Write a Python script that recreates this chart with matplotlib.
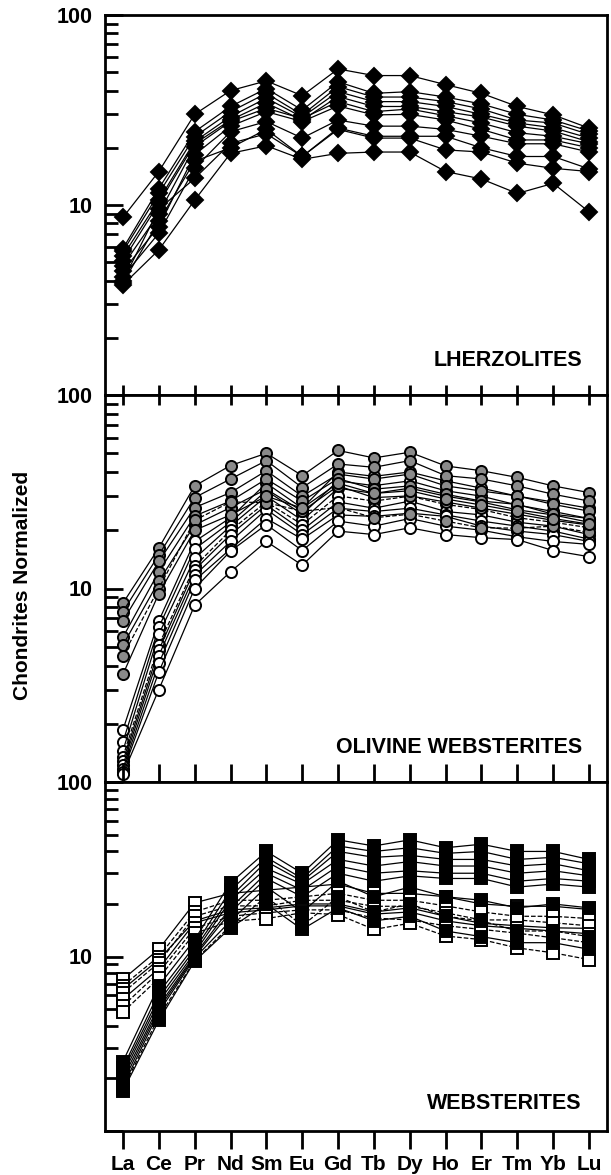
import numpy as np
import matplotlib
matplotlib.use('Agg')
import matplotlib.pyplot as plt
from matplotlib.ticker import FixedLocator, NullFormatter, FuncFormatter

plt.rcParams['font.family'] = ['Liberation Sans', 'DejaVu Sans']
plt.rcParams['font.weight'] = 'bold'

elements = ['La', 'Ce', 'Pr', 'Nd', 'Sm', 'Eu', 'Gd', 'Tb', 'Dy', 'Ho', 'Er', 'Tm', 'Yb', 'Lu']

# lherzolites (black diamonds)
lherz = [
    [8.6, 15.0, 30.0, 40.0, 45.0, 37.6, 52.0, 48.0, 48.0, 43.0, 38.7, 33.0, 29.8, 25.4],
    [5.9, 12.2, 24.3, 33.0, 41.0, 31.6, 44.5, 38.7, 39.5, 37.0, 34.0, 30.0, 28.0, 24.5],
    [5.7, 11.5, 22.9, 31.0, 38.7, 29.8, 42.0, 37.0, 37.0, 35.0, 32.0, 28.0, 27.0, 23.5],
    [5.4, 10.6, 21.6, 29.2, 36.5, 29.0, 39.5, 35.0, 35.0, 33.0, 30.0, 27.0, 25.5, 22.5],
    [5.1, 10.2, 21.0, 28.0, 34.4, 28.0, 37.2, 33.0, 33.0, 31.0, 29.0, 26.0, 24.5, 21.5],
    [4.8, 9.0, 20.3, 27.5, 32.3, 28.5, 35.0, 31.0, 32.0, 29.5, 27.0, 24.0, 23.0, 21.0],
    [4.5, 7.7, 18.4, 26.0, 31.0, 27.5, 33.2, 29.8, 30.0, 28.0, 25.0, 22.0, 22.0, 20.0],
    [4.2, 7.1, 15.6, 24.3, 27.5, 22.5, 28.0, 26.0, 26.0, 25.0, 23.0, 21.0, 21.0, 19.0],
    [4.0, 9.5, 13.8, 21.1, 23.7, 18.0, 25.4, 23.0, 23.0, 23.0, 20.0, 18.0, 18.0, 15.5],
    [3.9, 8.2, 17.0, 20.0, 25.0, 18.0, 25.0, 22.5, 22.5, 19.5, 19.0, 16.6, 15.6, 15.0],
    [3.8, 5.8, 10.6, 18.7, 20.5, 17.4, 18.7, 19.0, 19.0, 15.0, 13.7, 11.5, 13.0, 9.2],
]

# olivine websterites: grey filled circles
ow_grey = [
    [8.4, 16.2, 33.9, 43.2, 50.0, 38.3, 51.7, 47.3, 50.6, 43.0, 40.6, 37.5, 33.9, 31.3],
    [7.6, 14.9, 29.5, 36.8, 45.8, 33.2, 44.0, 42.3, 45.8, 38.3, 36.8, 33.9, 30.7, 28.3],
    [6.8, 13.8, 26.2, 31.3, 40.6, 30.0, 39.0, 36.8, 39.0, 33.9, 31.9, 30.1, 27.2, 25.1],
    [5.6, 12.2, 23.7, 28.3, 36.8, 28.3, 37.0, 32.6, 33.9, 30.7, 28.3, 27.2, 24.2, 23.0],
    [5.1, 10.9, 21.3, 26.2, 32.6, 25.1, 33.9, 29.5, 30.1, 28.0, 26.0, 24.2, 22.5, 21.3],
    [4.5, 10.0, 22.5, 28.0, 27.8, 25.1, 26.2, 23.2, 24.2, 22.3, 20.6, 20.5, 21.0, 19.5],
    [3.6, 9.4, 20.0, 24.0, 30.0, 26.0, 35.0, 31.0, 32.0, 29.0, 27.0, 25.0, 23.0, 21.5],
]
ow_grey_dash = [False, False, False, False, False, True, False]

# olivine websterites: open circles
ow_open = [
    [1.86, 6.8, 17.5, 23.2, 35.0, 26.0, 40.0, 38.0, 40.0, 36.0, 33.0, 30.0, 28.0, 26.0],
    [1.61, 6.3, 16.0, 22.0, 32.0, 24.2, 36.0, 34.0, 36.0, 32.0, 30.0, 27.0, 25.0, 23.0],
    [1.45, 5.8, 14.3, 21.0, 30.0, 22.5, 33.0, 31.0, 33.0, 30.0, 28.0, 25.5, 24.0, 22.0],
    [1.35, 5.1, 13.0, 20.0, 28.0, 21.4, 30.1, 28.3, 30.0, 27.2, 25.6, 23.2, 22.0, 20.6],
    [1.28, 4.8, 12.5, 19.0, 27.0, 20.0, 28.0, 26.0, 28.3, 25.0, 24.0, 22.0, 21.0, 19.0],
    [1.22, 4.5, 11.7, 17.5, 25.6, 19.0, 26.0, 25.0, 26.0, 24.0, 22.3, 21.0, 19.8, 18.0],
    [1.17, 4.1, 11.0, 16.0, 23.0, 18.0, 24.0, 23.6, 24.5, 23.6, 21.0, 19.8, 19.0, 17.5],
    [1.13, 3.7, 10.0, 15.6, 21.4, 15.7, 22.3, 21.0, 23.0, 21.0, 20.0, 18.5, 17.5, 16.9],
    [1.10, 3.0, 8.2, 12.2, 17.5, 13.2, 19.8, 19.0, 20.6, 19.0, 18.3, 17.9, 15.7, 14.6],
]
ow_open_dash = [False, False, False, True, False, False, False, False, False]

# websterites: black squares
web_black = [
    [2.5, 6.8, 12.5, 26.4, 40.0, 30.0, 46.6, 43.0, 46.6, 42.0, 44.0, 40.0, 40.0, 36.0],
    [2.3, 6.2, 11.5, 24.0, 37.0, 28.0, 43.0, 40.0, 42.0, 39.0, 40.0, 36.0, 37.0, 34.0],
    [2.2, 5.8, 11.0, 22.0, 35.0, 27.0, 40.0, 37.0, 38.0, 36.0, 36.0, 33.0, 34.0, 31.0],
    [2.1, 5.5, 10.5, 21.0, 32.0, 26.0, 36.0, 33.0, 35.0, 33.0, 33.0, 30.0, 31.0, 29.0],
    [2.0, 5.2, 10.2, 19.0, 30.0, 24.0, 33.0, 30.0, 31.0, 30.0, 30.0, 27.0, 28.0, 27.0],
    [1.9, 5.0, 10.0, 18.0, 28.0, 22.0, 30.0, 27.0, 29.0, 28.0, 28.0, 25.0, 26.0, 25.0],
    [1.8, 4.8, 9.8, 16.0, 25.0, 18.0, 27.0, 22.0, 25.0, 22.0, 21.0, 19.0, 20.0, 19.0],
    [1.75, 4.5, 9.5, 15.0, 22.0, 15.0, 22.0, 18.0, 20.0, 17.0, 16.0, 14.0, 14.0, 13.0],
    [1.7, 4.3, 9.4, 14.6, 20.0, 14.3, 19.0, 16.0, 17.0, 14.0, 13.0, 12.0, 12.0, 11.0],
]
web_black_dash = [False, False, False, False, False, False, False, True, False]

# websterites: open squares
web_open = [
    [7.4, 11.0, 20.3, 23.0, 24.0, 25.0, 26.0, 23.0, 23.0, 22.0, 20.0, 19.4, 19.4, 18.6],
    [6.8, 10.0, 18.0, 21.0, 21.0, 22.0, 23.0, 21.0, 21.0, 19.5, 18.0, 17.0, 17.0, 16.5],
    [6.5, 9.6, 16.0, 18.5, 19.0, 20.0, 20.0, 18.0, 19.0, 17.0, 15.5, 15.0, 14.6, 14.5],
    [6.2, 9.2, 17.0, 19.5, 19.5, 21.0, 21.0, 19.4, 19.4, 17.8, 16.2, 16.2, 15.6, 15.0],
    [5.7, 8.5, 15.6, 17.8, 18.5, 19.5, 19.5, 17.5, 18.0, 16.0, 15.0, 14.5, 14.0, 13.5],
    [5.2, 8.1, 14.5, 17.0, 17.8, 18.5, 18.5, 16.6, 16.2, 15.0, 14.3, 13.6, 12.8, 12.0],
    [4.8, 7.5, 13.6, 15.9, 16.5, 17.8, 17.4, 14.3, 15.5, 13.1, 12.5, 11.2, 10.5, 9.6],
]
web_open_dash = [False, True, False, True, False, True, True]

x = np.arange(1, len(elements) + 1)

fig = plt.figure(figsize=(6.11, 11.75), dpi=100)
left, width = 105 / 611, 502 / 611
H = 1175.0
ax1 = fig.add_axes([left, 1 - 395 / H, width, 380 / H])
ax2 = fig.add_axes([left, 1 - 782 / H, width, 387 / H])
ax3 = fig.add_axes([left, 1 - 1131 / H, width, 349 / H])


def draw(ax, rows, marker, face, size, dashes=None):
    for i, row in enumerate(rows):
        ls = '--' if (dashes and dashes[i]) else '-'
        ax.plot(x, row, color='black', lw=0.9, ls=ls, marker=marker, ms=size,
                mfc=face, mec='black', mew=1.4, zorder=3)


draw(ax1, lherz, 'D', 'black', 8.5)
draw(ax2, ow_open, 'o', 'white', 8, ow_open_dash)
draw(ax2, ow_grey, 'o', '#8a8a8a', 8, ow_grey_dash)
draw(ax3, web_open, 's', 'white', 8, web_open_dash)
draw(ax3, web_black, 's', 'black', 8, web_black_dash)

major = [1, 10, 100]
minor = [m * d for d in (1, 10) for m in range(2, 10)]
lab = FuncFormatter(lambda v, p: {10: '10', 100: '100'}.get(int(round(v)), ''))

for ax in (ax1, ax2, ax3):
    ax.set_yscale('log')
    ax.set_ylim(1, 100)
    ax.set_xlim(0.5, 14.5)
    ax.yaxis.set_major_locator(FixedLocator(major))
    ax.yaxis.set_minor_locator(FixedLocator(minor))
    ax.yaxis.set_major_formatter(lab)
    ax.yaxis.set_minor_formatter(NullFormatter())
    ax.tick_params(axis='y', which='major', direction='in', length=13, width=2,
                   labelsize=15.5, pad=9)
    ax.tick_params(axis='y', which='minor', direction='in', length=9, width=2)
    for s in ax.spines.values():
        s.set_linewidth(2)
    ax.set_xticks(x)
    ax.set_xticklabels([])
    ax.tick_params(axis='x', bottom=False, top=False)

ax2.tick_params(axis='x', top=True, direction='inout', length=15, width=2)
ax3.tick_params(axis='x', top=True, bottom=True, direction='inout', length=15, width=2)
ax3.tick_params(axis='x', bottom=True, direction='out', length=13, width=2,
                labelsize=15, pad=4)
ax3.set_xticklabels(elements, fontweight='bold')

for lbl in ax1.get_yticklabels() + ax2.get_yticklabels() + ax3.get_yticklabels():
    lbl.set_fontweight('bold')

ax1.text(0.95, 0.092, 'LHERZOLITES', transform=ax1.transAxes, ha='right',
         va='center', fontsize=15.5, fontweight='bold')
ax2.text(0.95, 0.09, 'OLIVINE WEBSTERITES', transform=ax2.transAxes, ha='right',
         va='center', fontsize=15.5, fontweight='bold')
ax3.text(0.95, 0.08, 'WEBSTERITES', transform=ax3.transAxes, ha='right',
         va='center', fontsize=15.5, fontweight='bold')

fig.text(23 / 611, 1 - 585 / H, 'Chondrites Normalized', rotation=90,
         ha='center', va='center', fontsize=15, fontweight='bold')

fig.savefig('out.png', dpi=100)
